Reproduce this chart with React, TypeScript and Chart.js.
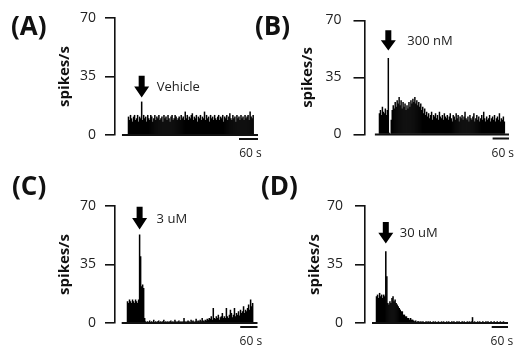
import { useEffect, useRef } from "react";
import { Chart, registerables } from "chart.js";

Chart.register(...registerables);

// ---------------- data (spikes/s per time bin) ----------------
const PANEL_LABELS = ["(A)", "(B)", "(C)", "(D)"];
const STIM_LABELS = ["Vehicle", "300 nM", "3 uM", "30 uM"];
const Y_TICKS = [0, 35, 70];
const SCALE_BAR_SEC = 60;
const SCALE_BAR_LABEL = "60 s";
const BIN_SEC = [3.2, 3.6, 3.5, 3.8];
const STIM_BIN = [13, 9, 12, 9];
const ARROW_TIP = [22.5, 51.5, 56, 47.5];
const ARROW_TOP = [35.5, 64, 69.5, 60.5];

const RATE_A = [
  11, 9, 12, 10, 8, 11, 12, 9, 10, 12, 8, 11, 10,
  20,
  9, 12, 10, 11, 8, 12, 10, 9, 12, 11, 8, 10, 12, 9, 11, 10,
  12, 9, 10, 11, 8, 12, 10, 11, 9, 12, 10, 8, 11, 12, 9, 10, 12, 11, 9, 10,
  11, 9, 12, 10, 11, 9, 14, 10, 12, 9, 11, 10, 12, 13, 9, 11, 10, 12, 8, 11,
  10, 12, 9, 11, 10, 14, 9, 12, 10, 11, 8, 12, 10, 11, 9, 12, 10, 9, 11, 12,
  9, 11, 10, 12, 8, 11, 10, 12, 9, 11, 13, 10, 9, 12, 10, 11, 8, 12, 10, 11,
  9, 12, 10, 11, 9, 12, 10, 11, 12, 9, 14, 11, 10, 12,
];

const RATE_B = [
  13, 15, 12, 17, 14, 13, 16, 12, 15,
  47,
  1, 0,
  9, 15, 18, 16, 20, 17, 21, 19,
  23, 18, 21, 16, 20, 17, 19, 15,
  18, 16, 20, 17, 21, 19, 22,
  20, 23, 19, 21, 18, 20, 17,
  19, 15, 17, 13, 16, 12, 14,
  11, 13, 10, 12, 14, 9, 12, 11, 13, 10, 12, 9, 14, 11, 10, 12, 9, 13, 11, 10,
  12, 9, 11, 13, 10, 8, 12, 11, 9, 13, 10, 12, 8, 11, 10, 12, 9, 11, 14, 10,
  9, 11, 8, 12, 10, 9, 11, 13, 8, 10, 12, 9, 11, 8, 10, 12, 9, 14, 10, 8,
  11, 9, 10, 12, 8, 10, 11, 9, 12, 8, 10, 11, 9, 13, 8, 10, 9, 11, 8,
];

const RATE_C = [
  13, 12, 14, 13, 12, 14, 13, 12, 14, 13, 12, 14,
  53,
  40,
  22, 23, 21,
  3,
  1, 0.5, 1, 0.5, 1.5, 0.5, 1, 0.5, 2, 0.5, 1, 0.5, 1, 1.5, 0.5, 1, 0.5, 1, 2, 0.5, 1, 0.5,
  1, 0.5, 1, 1.5, 0.5, 1, 0.5, 2, 1, 0.5, 1, 1.5, 0.5, 1, 0.5, 1, 3, 1, 0.5, 1,
  1.5, 1, 0.5, 2, 1, 1.5, 0.5, 1, 2.5, 1, 1.5, 1, 2, 1, 3, 1.5, 1, 2, 1.5, 2.5,
  2, 3, 2.5, 4, 2, 9, 3, 2.5, 4, 3, 5, 2, 3.5, 4, 6, 3, 4, 3, 9, 4,
  3, 5, 8, 6, 3.5, 5, 9, 4, 6, 5, 7, 4.5, 8, 6, 7, 10, 6, 8, 7, 9, 11, 8, 14, 10, 12,
];

const RATE_D = [
  16, 17, 15, 18, 16, 17, 15, 17, 16,
  43,
  28,
  12, 11, 13, 12, 15, 16, 13,
  14, 12, 11, 10,
  9, 8, 7, 7, 5, 5, 4,
  4, 3, 3, 2, 3, 2, 2,
  1.5, 1, 1.5, 0.5, 1, 1, 0.5, 1, 0.5, 1, 0.5, 0.5, 1, 0.5, 1, 0.5, 1, 0.5, 0.5, 1,
  0.5, 1, 0.5, 0.5, 1, 0.5, 0.5, 1, 0.5, 1, 0.5, 0.5, 1, 0.5, 1, 0.5, 0.5, 1, 0.5, 1,
  0.5, 0.5, 1, 0.5, 1, 0.5, 0.5, 1, 0.5, 1, 0.5, 0.5, 1, 0.5, 1, 0.5, 1, 3.5, 0.5, 1,
  0.5, 0.5, 1, 0.5, 1, 0.5, 0.5, 1, 0.5, 0.5, 1, 0.5, 1, 0.5, 0.5, 1, 0.5, 0.5, 1, 0.5,
  0.5, 1, 0.5, 0.5, 1, 0.5, 0.5, 1, 0.5,
];

const RATES = [RATE_A, RATE_B, RATE_C, RATE_D];

// ---------------- layout / style ----------------
const CW = 518;
const CH = 346;
const FONT = "'Open Sans', 'DejaVu Sans', sans-serif";
const INK = "#111";

const GEOM = [
  { axisX: 115, titleX: 65, top: 18, bottom: 135, right: 258, tickLen: 10, tickPad: 9, xMin: -41, xMax: 410.5, baseStart: -19, letterX: 11, letterY: 35, labelDX: 15 },
  { axisX: 364.5, titleX: 308, top: 18, bottom: 134.5, right: 509, tickLen: 11, tickPad: 12, xMin: -53, xMax: 476, baseStart: -15, letterX: 255, letterY: 35, labelDX: 19 },
  { axisX: 115, titleX: 65, top: 206, bottom: 323, right: 257.5, tickLen: 10, tickPad: 9, xMin: -41.6, xMax: 452.6, baseStart: -18.4, letterX: 12, letterY: 195, labelDX: 17 },
  { axisX: 365, titleX: 315, top: 206, bottom: 323, right: 508, tickLen: 10, tickPad: 12, xMin: -40.5, xMax: 486, baseStart: -14.7, letterX: 261, letterY: 195, labelDX: 14 },
];

function Panel({ index }: { index: number }) {
  const ref = useRef<HTMLCanvasElement | null>(null);

  useEffect(() => {
    const canvas = ref.current;
    if (!canvas) return;
    const g = GEOM[index];
    const bin = BIN_SEC[index];
    const rates = RATES[index];
    const titleFontSize = 15;
    const padLeft = g.titleX - (titleFontSize * 1.2) / 2;
    const axisWidth = g.axisX - padLeft;

    const decor = {
      id: "decor" + index,
      afterDatasetsDraw(chart: any) {
        const ctx = chart.ctx;
        const xs = chart.scales.x;
        const ys = chart.scales.y;
        const area = chart.chartArea;
        ctx.save();

        // stimulus arrow
        const ax = xs.getPixelForValue((STIM_BIN[index] + 0.5) * bin);
        const tipY = ys.getPixelForValue(ARROW_TIP[index]);
        const topY = ys.getPixelForValue(ARROW_TOP[index]);
        const headH = (tipY - topY) * 0.5;
        const shaftW = 6;
        const headW = 15;
        ctx.fillStyle = "#000";
        ctx.beginPath();
        ctx.moveTo(ax - shaftW / 2, topY);
        ctx.lineTo(ax + shaftW / 2, topY);
        ctx.lineTo(ax + shaftW / 2, tipY - headH);
        ctx.lineTo(ax + headW / 2, tipY - headH);
        ctx.lineTo(ax, tipY);
        ctx.lineTo(ax - headW / 2, tipY - headH);
        ctx.lineTo(ax - shaftW / 2, tipY - headH);
        ctx.closePath();
        ctx.fill();

        // stimulus label
        ctx.fillStyle = "#222";
        ctx.font = `13px ${FONT}`;
        ctx.textAlign = "left";
        ctx.textBaseline = "middle";
        ctx.fillText(STIM_LABELS[index], ax + g.labelDX, (topY + tipY) / 2 + 1);

        // time scale bar
        const x1 = xs.getPixelForValue(g.xMax - SCALE_BAR_SEC);
        const x2 = xs.getPixelForValue(g.xMax);
        const sy = area.bottom + 4;
        ctx.strokeStyle = INK;
        ctx.lineWidth = 2;
        ctx.beginPath();
        ctx.moveTo(x1, sy);
        ctx.lineTo(x2, sy);
        ctx.stroke();
        ctx.fillStyle = "#222";
        ctx.font = `12px ${FONT}`;
        ctx.textAlign = "center";
        ctx.textBaseline = "alphabetic";
        ctx.fillText(SCALE_BAR_LABEL, (x1 + x2) / 2 + 2, area.bottom + 22);

        // panel letter
        ctx.fillStyle = INK;
        ctx.font = `bold 26px ${FONT}`;
        ctx.textAlign = "left";
        ctx.textBaseline = "alphabetic";
        ctx.fillText(PANEL_LABELS[index], g.letterX, g.letterY);

        ctx.restore();
      },
    };

    const chart = new Chart(canvas, {
      type: "bar",
      data: {
        datasets: [
          {
            type: "bar",
            data: rates.map((v, i) => ({ x: (i + 0.5) * bin, y: v })),
            backgroundColor: "#000",
            borderWidth: 0,
            barPercentage: 1.5,
            categoryPercentage: 1,
            order: 2,
          } as any,
          {
            type: "line",
            data: [
              { x: g.baseStart, y: 0 },
              { x: g.xMax, y: 0 },
            ],
            borderColor: INK,
            borderWidth: 2,
            pointRadius: 0,
            clip: false,
            order: 1,
          } as any,
        ],
      },
      options: {
        animation: false,
        responsive: false,
        devicePixelRatio: 1,
        events: [],
        layout: {
          padding: {
            left: padLeft,
            top: g.top,
            right: CW - g.right,
            bottom: CH - g.bottom,
          },
        },
        plugins: {
          legend: { display: false },
          tooltip: { enabled: false },
          title: { display: false },
        },
        scales: {
          x: {
            type: "linear",
            display: false,
            min: g.xMin,
            max: g.xMax,
            offset: false,
          },
          y: {
            type: "linear",
            min: Y_TICKS[0],
            max: Y_TICKS[Y_TICKS.length - 1],
            afterBuildTicks: (s: any) => {
              s.ticks = Y_TICKS.map((v) => ({ value: v }));
            },
            afterFit: (s: any) => {
              s.width = axisWidth;
            },
            border: { display: true, color: INK, width: 1.6 },
            grid: {
              display: true,
              drawOnChartArea: false,
              drawTicks: true,
              tickLength: g.tickLen,
              color: INK,
              lineWidth: 1.6,
            },
            ticks: {
              padding: g.tickPad,
              color: "#222",
              font: { family: FONT, size: 14 },
            },
            title: {
              display: true,
              text: "spikes/s",
              color: INK,
              padding: 0,
              font: { family: FONT, size: titleFontSize, weight: "bold" },
            },
          },
        },
      } as any,
      plugins: [decor],
    });

    return () => chart.destroy();
  }, [index]);

  return (
    <canvas
      ref={ref}
      width={CW}
      height={CH}
      style={{ position: "absolute", left: 0, top: 0, width: CW, height: CH }}
    />
  );
}

export default function App() {
  return (
    <div
      style={{
        position: "fixed",
        left: 0,
        top: 0,
        width: CW,
        height: CH,
        background: "#fff",
        overflow: "hidden",
      }}
    >
      {GEOM.map((_, i) => (
        <Panel key={i} index={i} />
      ))}
    </div>
  );
}
